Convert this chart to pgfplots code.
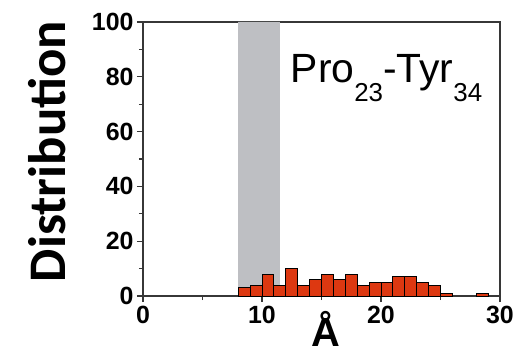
\documentclass[border=0pt]{standalone}
\usepackage{pgfplots}
\pgfplotsset{compat=1.18}
\usepackage{fontspec}
\setmainfont{Liberation Sans}
\newfontfamily\calib{Carlito}
\definecolor{barred}{RGB}{221,56,17}
\definecolor{band}{RGB}{190,191,195}
\definecolor{axgray}{RGB}{55,55,55}
\begin{document}
\begin{tikzpicture}
\useasboundingbox (-143bp,-60bp) rectangle (385bp,296bp);
\begin{axis}[
  at={(0,0)}, anchor=south west,
  scale only axis, width=357bp, height=274bp,
  xmin=0, xmax=30, ymin=0, ymax=100,
  xtick={0,10,20,30}, ytick={0,20,40,60,80,100},
  minor xtick={5,15,25}, minor ytick={10,30,50,70,90},
  tick align=outside, tick pos=left,
  major tick length=6bp, minor tick length=4bp,
  axis line style={axgray, line width=1.1pt},
  every tick/.style={axgray, line width=1.1pt},
  tick label style={font=\fontsize{25}{25}\selectfont\bfseries},
  /pgf/number format/assume math mode=true,
  xticklabel style={yshift=-1bp},
  yticklabel style={xshift=0bp},
  ylabel={\calib\bfseries\fontsize{53}{53}\selectfont Distribution},
  ylabel style={at={(axis description cs:-0.269,0.527)}, anchor=center, rotate=0},
  clip=false,
]
\addplot[fill=band, draw=none] coordinates {(8,0) (11.5,0) (11.5,100) (8,100)} \closedcycle;
\addplot[ybar, bar width=1, bar shift=0, fill=barred, draw=black, line width=0.9pt] coordinates {
(8.5,3) (9.5,4) (10.5,8) (11.5,4) (12.5,10) (13.5,4) (14.5,6) (15.5,8) (16.5,6) (17.5,8)
(18.5,4) (19.5,5) (20.5,5) (21.5,7) (22.5,7) (23.5,5) (24.5,4) (25.5,1) (28.5,1)
};
\node[anchor=base west, inner sep=0pt] at (axis cs:12.4,78) {\fontsize{41}{41}\selectfont Pro\raisebox{-19bp}{\fontsize{26}{26}\selectfont 23}-Tyr\raisebox{-19bp}{\fontsize{26}{26}\selectfont 34}};
\node[anchor=base, inner sep=0pt] at (axis description cs:0.513,-0.183) {\fontsize{40}{40}\selectfont\bfseries Å};
\end{axis}
\end{tikzpicture}
\end{document}
